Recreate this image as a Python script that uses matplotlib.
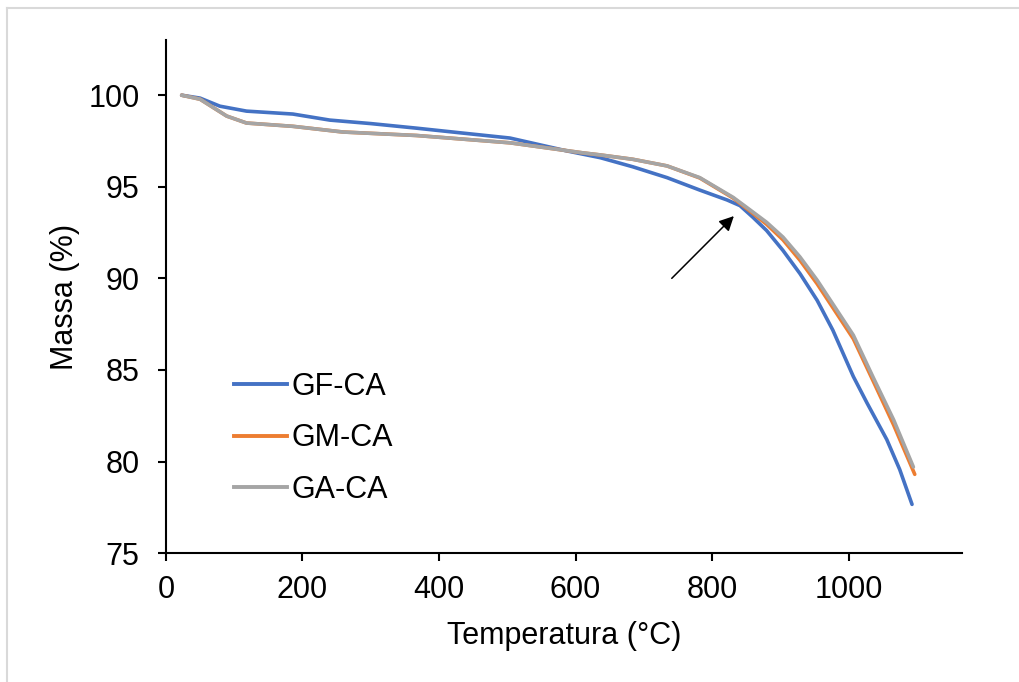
import matplotlib.pyplot as plt
from matplotlib.lines import Line2D

plt.rcParams['font.family'] = ['Liberation Sans', 'DejaVu Sans']

# Dados (temperatura em °C, massa em %)
temp_gf = [23, 50, 79, 118, 186, 240, 300, 367, 430, 504, 587, 636, 684, 734,
           782, 822, 841, 860, 880, 904, 929, 954, 977, 1007, 1027, 1056, 1075, 1093]
massa_gf = [100, 99.84, 99.4, 99.13, 98.97, 98.64, 98.45, 98.2, 97.95, 97.66,
            96.96, 96.59, 96.09, 95.5, 94.82, 94.28, 93.97, 93.33, 92.61, 91.52,
            90.25, 88.8, 87.17, 84.64, 83.2, 81.2, 79.56, 77.66]

temp_gm = [23, 50, 89, 118, 186, 259, 367, 504, 611, 636, 684, 734, 782, 831,
           856, 880, 904, 929, 954, 977, 1007, 1036, 1066, 1097]
massa_gm = [100, 99.78, 98.86, 98.48, 98.3, 97.99, 97.8, 97.4, 96.85, 96.74,
            96.5, 96.14, 95.48, 94.38, 93.66, 92.95, 92.1, 90.98, 89.7, 88.4,
            86.7, 84.4, 82.0, 79.3]

temp_ga = [23, 50, 89, 118, 186, 259, 367, 504, 611, 636, 684, 734, 782, 831,
           856, 880, 904, 929, 954, 977, 1007, 1036, 1066, 1095]
massa_ga = [100, 99.78, 98.86, 98.48, 98.3, 97.99, 97.8, 97.4, 96.85, 96.74,
            96.5, 96.14, 95.5, 94.42, 93.73, 93.06, 92.25, 91.16, 89.9, 88.6,
            86.9, 84.6, 82.28, 79.7]

series = ['GF-CA', 'GM-CA', 'GA-CA']
cores = ['#4472C4', '#ED7D31', '#A5A5A5']

fig = plt.figure(figsize=(10.2, 6.82), dpi=100)
ax = fig.add_axes([0.1627, 0.189, 0.7803, 0.752])

ax.plot(temp_gf, massa_gf, color=cores[0], lw=2.6, solid_capstyle='round', solid_joinstyle='round')
ax.plot(temp_gm, massa_gm, color=cores[1], lw=2.6, solid_capstyle='round', solid_joinstyle='round')
ax.plot(temp_ga, massa_ga, color=cores[2], lw=2.6, solid_capstyle='round', solid_joinstyle='round')

ax.set_xlim(0, 1166)
ax.set_ylim(75, 103)
ax.set_xticks([0, 200, 400, 600, 800, 1000])
ax.set_yticks([75, 80, 85, 90, 95, 100])
ax.tick_params(axis='both', labelsize=22, length=6, width=1.5, direction='out')
ax.tick_params(axis='x', pad=10)
ax.tick_params(axis='y', pad=13)

for lado in ['top', 'right']:
    ax.spines[lado].set_visible(False)
for lado in ['left', 'bottom']:
    ax.spines[lado].set_linewidth(1.5)

ax.set_xlabel('Temperatura (°C)', fontsize=22, labelpad=11)
ax.set_ylabel('Massa (%)', fontsize=22, labelpad=6)

# Seta indicando o ponto de inflexão
ax.annotate('', xy=(832, 93.4), xytext=(741, 90.0),
            arrowprops=dict(arrowstyle='-|>', color='black', lw=1.1,
                            mutation_scale=22, shrinkA=0, shrinkB=0))

handles = [Line2D([0], [0], color=c, lw=2.8) for c in cores]
ax.legend(handles, series, loc='upper left', bbox_to_anchor=(0.066, 0.383),
          frameon=False, fontsize=22, handlelength=1.75, handletextpad=0.15,
          labelspacing=0.7, borderpad=0)

# Moldura cinza (apenas superior e esquerda visíveis)
fig.add_artist(Line2D([0.007, 1.0], [0.989, 0.989], color='#d9d9d9', lw=1.5,
                      transform=fig.transFigure))
fig.add_artist(Line2D([0.007, 0.007], [0.0, 0.989], color='#d9d9d9', lw=1.5,
                      transform=fig.transFigure))

plt.savefig('out.png', dpi=100)
plt.close()
